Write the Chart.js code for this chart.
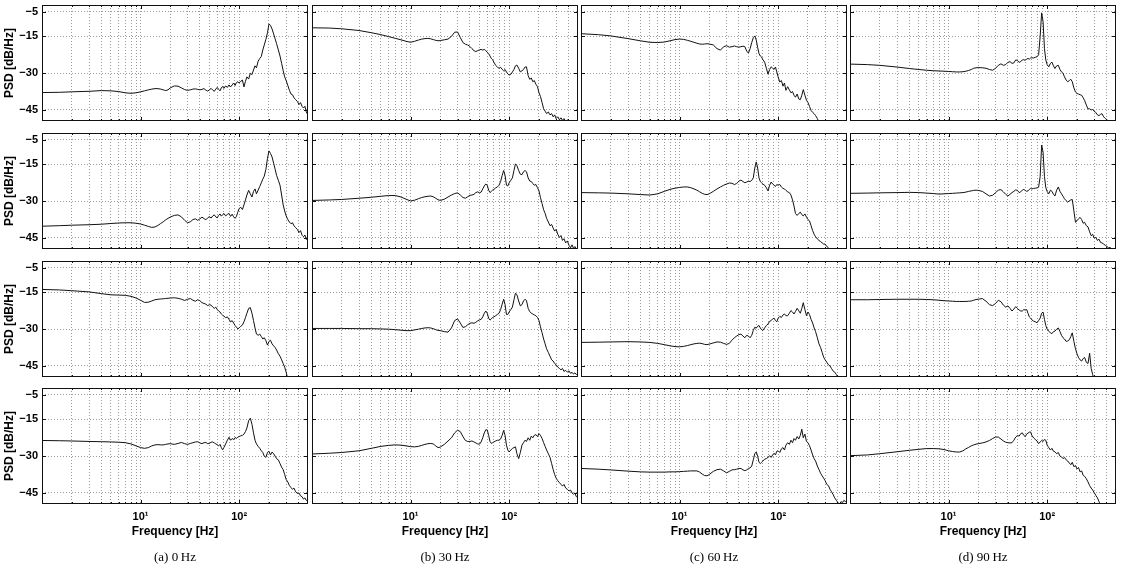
<!DOCTYPE html>
<html>
<head>
<meta charset="utf-8">
<script src="https://cdn.jsdelivr.net/npm/chart.js@4.4.1/dist/chart.umd.min.js"></script>
<style>
  html, body { margin: 0; padding: 0; background: #fff; }
  #figure { position: relative; width: 1148px; height: 567px; overflow: hidden; }
  #figure canvas { position: absolute; }
  .caption {
    position: absolute; width: 266px; text-align: center; color: #000;
    font-family: "Liberation Serif", "DejaVu Serif", serif; font-size: 13px; line-height: 14px;
  }
</style>
</head>
<body>
<div id="figure"></div>
<script>
//-----------------------------------------------------------------------------
// Data
//-----------------------------------------------------------------------------

var freqs = [
  1, 1.5, 2, 3, 4, 5, 6, 7, 8, 9,
  10, 11, 12, 13, 14, 15, 16, 17, 18, 19,
  20, 22, 24, 26, 28, 30, 32, 34, 36, 38,
  40, 42, 44, 46, 48, 50, 52, 54, 56, 58,
  60, 62, 64, 66, 68, 70, 73, 76, 79, 82,
  85, 88, 91, 94, 97, 100, 104, 108, 112, 116,
  120, 125, 130, 135, 140, 145, 150, 156, 162, 168,
  174, 180, 187, 194, 201, 208, 216, 224, 232, 240,
  250, 260, 270, 280, 290, 300, 312, 324, 336, 348,
  360, 375, 390, 405, 420, 435, 450, 465, 480, 500
];

// grid / tick positions
var xTicks = [2, 3, 4, 5, 6, 7, 8, 9, 10, 20, 30, 40, 50, 60, 70, 80, 90, 100, 200, 300, 400];
var xLabels = { 10: '10\u00b9', 100: '10\u00b2' };
var yTicks = [-45, -30, -15, -5];

var captions = ['(a) 0\u2009Hz', '(b) 30\u2009Hz', '(c) 60\u2009Hz', '(d) 90\u2009Hz'];

// column (a) 0 Hz
var psdA1 = [
  -37.9, -37.8, -37.6, -37.4, -37.1, -37.2, -37.5, -38.0, -38.2, -38.0,
  -37.6, -37.2, -36.8, -36.5, -36.3, -36.3, -36.5, -36.8, -37.1, -36.8,
  -36.0, -35.2, -35.3, -36.0, -36.7, -37.0, -36.8, -36.5, -36.4, -36.6,
  -36.8, -36.6, -36.3, -36.9, -37.3, -36.8, -36.2, -36.9, -37.4, -36.5,
  -35.8, -36.6, -37.2, -36.0, -35.4, -36.2, -35.2, -35.8, -34.8, -35.6,
  -34.8, -34.0, -35.0, -33.8, -33.5, -34.0, -33.3, -32.8, -35.6, -33.3,
  -31.5, -32.4, -30.0, -30.6, -28.7, -27.0, -27.8, -25.1, -24.0, -23.2,
  -20.5, -18.5, -16.2, -13.5, -9.9, -10.5, -12.0, -14.0, -16.0, -18.0,
  -20.5, -23.0, -26.0, -29.0, -31.5, -33.0, -35.0, -37.0, -38.5, -38.8,
  -40.0, -40.8, -41.5, -42.8, -42.0, -43.5, -44.2, -43.5, -45.8, -47.0
];
var psdA2 = [
  -40.2, -40.0, -39.8, -39.6, -39.4, -39.1, -38.9, -38.8, -38.8, -39.0,
  -39.3, -39.8, -40.3, -40.7, -40.5, -39.9, -39.1, -38.4, -37.6, -37.0,
  -36.5, -35.8, -35.6, -36.4, -37.8, -38.8, -38.4, -37.5, -37.2, -37.8,
  -37.2, -36.5, -37.1, -37.6, -36.8, -36.3, -36.9, -36.0, -35.6, -36.4,
  -36.8, -35.8, -35.2, -36.1, -35.5, -35.0, -36.0, -35.4, -35.0, -36.2,
  -35.3, -36.4, -37.0, -36.2, -34.5, -33.0, -32.5, -33.4, -31.5, -29.5,
  -27.5, -25.6, -27.0, -28.3, -26.0, -25.0, -27.0, -25.5, -24.0, -22.5,
  -21.0, -19.8, -17.0, -12.5, -9.5, -10.5, -12.0, -14.5, -17.0, -19.5,
  -21.5, -23.5, -27.5, -31.5, -34.0, -36.0, -37.5, -38.5, -39.2, -38.8,
  -40.0, -40.8, -41.5, -42.8, -42.0, -43.9, -44.5, -43.8, -45.5, -46.0
];
var psdA3 = [
  -13.8, -14.0, -14.3, -14.8, -15.5, -16.0, -16.1, -16.2, -16.6, -17.3,
  -18.2, -19.1, -19.0, -18.5, -18.0, -17.8, -17.7, -17.6, -17.5, -17.4,
  -17.3, -17.2, -17.4, -17.8, -18.3, -17.8, -17.5, -18.2, -18.6, -18.0,
  -18.4, -19.2, -19.5, -19.8, -20.4, -20.0, -20.2, -21.0, -21.5, -21.0,
  -22.0, -22.6, -23.0, -23.8, -24.3, -24.7, -25.3, -25.0, -26.0, -27.0,
  -26.5, -27.5, -28.5, -29.2, -29.9, -29.5, -28.8, -28.3, -27.0, -25.3,
  -23.5, -21.5, -21.2, -23.5, -26.5, -29.5, -32.0, -32.5, -32.0, -33.0,
  -34.0, -33.5, -34.7, -36.5, -35.0, -34.5, -36.0, -36.8, -37.5, -38.5,
  -40.0, -41.0, -42.5, -44.0, -45.5, -47.5, -50.5, -52.0, -53.0, -54.0,
  -55.0, -55.0, -55.0, -55.0, -55.0, -55.0, -55.0, -55.0, -55.0, -55.0
];
var psdA4 = [
  -23.6, -23.7, -23.8, -24.0, -24.1, -24.2, -24.3, -24.5, -25.0, -25.8,
  -26.5, -26.8, -26.5, -25.8, -25.4, -25.3, -25.4, -25.4, -25.2, -25.0,
  -24.9, -25.2, -24.8, -24.4, -24.9, -25.2, -24.8, -24.5, -24.2, -24.1,
  -24.6, -24.9, -24.5, -24.4, -24.9, -24.8, -24.3, -24.2, -24.6, -25.0,
  -25.3, -25.8, -25.2, -26.5, -27.4, -26.5, -25.0, -23.5, -22.3, -23.5,
  -22.8, -23.2, -22.4, -22.8, -22.2, -22.0, -21.7, -21.5, -21.0, -20.0,
  -18.5, -15.5, -14.5, -17.0, -20.5, -23.5, -25.0, -26.0, -26.8, -27.8,
  -28.5, -30.0, -30.5, -28.5, -28.0, -29.5, -28.3, -29.0, -30.0, -31.0,
  -31.5, -33.0, -34.5, -35.5, -37.5, -39.5, -40.5, -42.0, -42.8, -43.5,
  -43.0, -44.5, -45.2, -45.0, -46.2, -46.5, -47.5, -47.0, -48.0, -48.2
];

// column (b) 30 Hz
var psdB1 = [
  -11.5, -11.6, -11.9, -12.6, -13.5, -14.3, -15.1, -15.8, -16.4, -17.0,
  -17.4, -17.0, -16.5, -16.1, -15.9, -15.8, -16.0, -16.3, -16.6, -16.8,
  -16.7, -16.4, -16.1, -15.0, -13.3, -13.2, -15.5, -17.5, -18.2, -18.5,
  -19.1, -20.0, -20.8, -21.2, -20.8, -20.5, -20.3, -20.6, -20.3, -20.8,
  -21.5, -22.0, -23.0, -24.0, -24.5, -25.5, -26.8, -27.5, -28.0, -27.6,
  -28.4, -29.0, -28.5, -29.5, -30.3, -30.8, -30.5, -29.5, -28.5, -27.0,
  -26.7, -28.0, -29.5, -29.0, -28.5, -27.5, -27.4, -31.0, -32.5, -32.0,
  -33.5, -33.0, -34.5, -35.5, -38.0, -39.5, -42.0, -44.5, -45.5, -46.5,
  -45.8, -47.0, -46.5, -47.8, -47.0, -48.5, -47.8, -49.0, -48.2, -49.3,
  -48.5, -49.6, -49.0, -50.0, -51.0, -52.0, -53.0, -54.0, -55.0, -55.0
];
var psdB2 = [
  -29.7, -29.5, -29.3, -28.8, -28.4, -28.0, -27.7, -27.7, -28.3, -29.2,
  -29.9, -29.6, -29.0, -28.5, -28.2, -28.0, -27.9, -28.2, -28.8, -29.4,
  -29.7, -29.2, -28.3, -27.5, -26.9, -26.6, -27.5, -28.5, -28.8, -28.2,
  -27.6, -27.5, -27.2, -26.5, -26.2, -26.6, -26.3, -25.0, -23.8, -23.0,
  -23.5, -25.5, -26.5, -26.0, -25.5, -25.2, -24.6, -24.2, -23.5, -22.0,
  -19.5, -17.5, -19.5, -23.5, -23.8, -22.5, -21.5, -20.5, -17.5, -14.8,
  -15.5, -17.5, -19.0, -19.2, -18.0, -17.5, -18.0, -20.5, -21.8, -22.0,
  -22.8, -23.5, -23.2, -24.5, -25.8, -28.5, -31.0, -33.5, -35.0, -37.0,
  -38.5, -40.0, -39.5, -41.0, -42.2, -41.5, -43.5, -44.8, -44.0, -46.0,
  -45.3, -47.0, -46.2, -48.0, -49.0, -47.8, -49.2, -48.5, -49.5, -48.8
];
var psdB3 = [
  -29.7, -29.7, -29.7, -29.8, -29.8, -29.9, -30.0, -30.2, -30.4, -30.6,
  -30.6, -30.3, -30.0, -29.7, -29.5, -29.4, -29.5, -29.8, -30.2, -30.5,
  -30.6, -31.0, -31.2, -29.5, -26.5, -25.8, -27.5, -29.3, -29.0, -28.2,
  -27.6, -27.4, -27.6, -27.2, -26.6, -26.2, -26.0, -25.0, -23.5, -22.6,
  -23.5, -25.5, -26.3, -25.8, -25.2, -25.0, -24.5, -24.0, -23.5, -22.0,
  -19.8, -17.8, -20.0, -24.0, -24.0, -23.0, -22.0, -21.0, -18.0, -15.3,
  -16.0, -18.5, -20.5, -20.0, -18.5, -17.8, -18.3, -21.5, -22.8, -23.5,
  -23.8, -24.2, -24.5, -25.2, -26.5, -29.0, -31.5, -34.0, -36.0, -38.0,
  -39.5, -41.0, -42.5, -43.0, -44.0, -44.5, -45.5, -46.0, -46.6, -46.0,
  -47.2, -46.8, -47.5, -47.0, -48.0, -47.6, -48.3, -47.8, -48.5, -48.0
];
var psdB4 = [
  -29.1, -28.8, -28.5, -27.8, -26.8, -26.0, -25.6, -25.4, -25.5, -25.8,
  -26.1, -26.2, -26.0, -25.6, -25.2, -24.9, -24.8, -25.0, -25.8, -26.5,
  -26.3, -25.2, -23.8, -22.5, -20.5, -19.4, -20.0, -22.0, -23.6, -24.0,
  -24.0, -23.8, -24.2, -24.6, -25.0, -25.1, -24.2, -22.5, -20.5, -19.2,
  -19.3, -21.5, -24.0, -24.8, -24.5, -24.2, -23.8, -23.5, -23.5, -23.0,
  -21.5, -19.5, -21.5, -25.5, -27.5, -28.3, -27.5, -26.8, -26.5, -26.2,
  -29.0, -31.0, -28.5, -25.5, -24.5, -23.5, -24.0, -22.5, -23.5, -21.8,
  -22.5, -21.5, -21.2, -22.0, -20.8, -21.5, -22.8, -24.5, -26.0, -27.5,
  -29.0, -30.5, -33.0, -35.5, -37.5, -39.0, -40.0, -40.8, -41.5, -42.2,
  -41.5, -43.0, -43.5, -44.2, -43.8, -45.0, -45.5, -45.0, -46.5, -46.8
];

// column (c) 60 Hz
var psdC1 = [
  -13.9, -14.3, -14.8, -15.9, -16.8, -17.4, -17.5, -17.3, -16.8, -16.3,
  -16.1, -16.2, -16.6, -17.0, -17.4, -17.8, -18.1, -18.2, -18.1, -18.0,
  -18.1, -18.5, -20.0, -20.6, -19.2, -18.8, -19.4, -19.2, -18.9, -19.2,
  -19.4, -19.2, -19.0, -19.2, -21.0, -21.8, -20.0, -17.5, -15.5, -14.8,
  -16.5, -19.5, -22.0, -23.0, -23.4, -24.5, -25.5, -28.0, -30.4, -28.5,
  -27.4, -28.0, -28.5, -27.5, -29.5, -31.5, -33.6, -33.0, -35.3, -34.0,
  -37.0, -35.5, -36.8, -38.0, -37.5, -39.0, -39.8, -38.5, -40.5, -40.8,
  -39.0, -36.7, -39.0, -41.0, -42.0, -43.5, -45.2, -46.0, -46.5, -47.3,
  -48.5, -50.0, -51.0, -52.0, -53.0, -54.0, -55.0, -55.0, -55.0, -55.0,
  -55.0, -55.0, -55.0, -55.0, -55.0, -55.0, -55.0, -55.0, -55.0, -55.0
];
var psdC2 = [
  -26.5, -26.6, -26.7, -27.0, -27.3, -27.5, -27.0, -26.0, -25.2, -24.7,
  -24.4, -24.2, -24.2, -24.5, -25.0, -25.5, -26.2, -26.8, -27.2, -27.3,
  -27.0, -26.0, -25.0, -24.2, -23.5, -23.0, -22.6, -22.7, -23.2, -22.8,
  -21.8, -21.4, -22.0, -22.5, -22.2, -21.8, -22.0, -21.5, -20.5, -16.5,
  -14.0, -16.5, -20.5, -22.0, -22.5, -23.0, -23.5, -24.5, -25.8, -23.5,
  -22.2, -23.0, -23.5, -24.0, -23.2, -23.5, -23.2, -24.2, -24.8, -25.0,
  -25.6, -26.2, -26.5, -27.5, -29.5, -32.0, -35.0, -35.8, -35.0, -34.5,
  -35.5, -36.0, -35.2, -36.5, -37.5, -38.0, -40.0, -42.0, -43.5, -44.5,
  -45.4, -46.0, -46.5, -47.0, -47.5, -47.5, -48.5, -49.0, -50.5, -52.0,
  -54.0, -55.0, -55.0, -55.0, -55.0, -55.0, -55.0, -55.0, -55.0, -55.0
];
var psdC3 = [
  -35.4, -35.3, -35.2, -35.1, -35.2, -35.4, -35.8, -36.3, -36.8, -37.1,
  -37.2, -37.0, -36.7, -36.3, -36.0, -35.8, -35.7, -35.9, -36.2, -36.3,
  -36.1, -35.6, -35.2, -35.3, -35.8, -36.2, -35.8, -34.5, -33.5, -32.8,
  -32.2, -32.0, -32.8, -33.5, -32.5, -32.8, -33.5, -32.5, -30.5, -29.2,
  -29.6, -28.8, -28.5, -29.5, -30.2, -30.5, -29.5, -28.5, -27.9, -26.8,
  -26.5, -25.8, -25.5, -26.5, -27.0, -25.5, -24.8, -25.2, -24.2, -23.8,
  -24.5, -24.5, -23.5, -22.4, -23.0, -23.8, -22.8, -21.5, -22.5, -23.5,
  -21.5, -19.2, -22.0, -24.5, -23.0, -24.0, -26.0, -27.5, -29.5, -31.0,
  -33.5, -36.0, -37.5, -39.5, -41.5, -42.5, -43.5, -44.5, -45.0, -46.0,
  -47.0, -47.5, -48.5, -49.5, -50.5, -52.0, -53.0, -54.0, -55.0, -55.0
];
var psdC4 = [
  -35.0, -35.3, -35.6, -36.1, -36.4, -36.5, -36.5, -36.5, -36.4, -36.4,
  -36.3, -36.2, -36.1, -36.0, -36.0, -36.0, -36.5, -37.3, -37.9, -38.0,
  -37.5, -36.2, -35.5, -35.3, -36.0, -36.8, -36.2, -35.6, -35.5, -35.3,
  -35.0, -35.0, -35.6, -35.9, -35.6, -35.0, -34.8, -34.0, -31.5, -29.0,
  -28.3, -30.0, -32.5, -33.0, -32.5, -32.0, -31.2, -31.0, -30.5, -29.8,
  -30.5, -29.5, -28.8, -29.5, -28.0, -27.8, -28.5, -27.0, -26.5, -27.5,
  -25.5, -24.5, -25.2, -23.5, -24.5, -22.8, -23.5, -22.0, -23.0, -21.5,
  -19.0, -22.5, -21.0, -24.0, -24.5, -25.7, -27.5, -29.5, -31.0, -32.0,
  -34.0, -35.5, -37.0, -38.0, -39.0, -40.0, -41.5, -42.0, -43.5, -44.5,
  -45.5, -47.0, -48.0, -49.0, -49.6, -48.5, -49.0, -48.0, -48.5, -48.0
];

// column (d) 90 Hz
var psdD1 = [
  -26.3, -26.5, -26.8, -27.5, -28.1, -28.5, -28.8, -29.0, -29.1, -29.2,
  -29.3, -29.4, -29.5, -29.5, -29.4, -29.2, -28.9, -28.5, -28.0, -27.8,
  -27.7, -27.8, -28.0, -28.5, -28.8, -28.0, -26.8, -26.2, -26.8, -26.5,
  -25.6, -25.3, -26.0, -25.8, -24.6, -24.8, -25.6, -25.3, -24.6, -24.5,
  -24.8, -24.2, -24.0, -24.3, -23.8, -23.7, -23.8, -23.5, -23.3, -22.5,
  -15.0, -5.4, -9.0, -20.0, -24.6, -26.5, -27.4, -26.0, -25.5, -27.0,
  -28.1, -27.0, -26.8, -28.5, -29.5, -30.0, -31.5, -32.8, -33.5, -33.0,
  -32.5, -33.5, -36.0, -37.7, -38.3, -38.5, -38.8, -39.0, -40.0, -41.1,
  -43.0, -44.6, -44.5, -45.0, -44.8, -45.5, -46.0, -47.0, -47.3, -46.8,
  -46.5, -47.8, -48.5, -49.0, -49.6, -50.5, -52.0, -54.0, -55.0, -55.0
];
var psdD2 = [
  -26.8, -26.7, -26.6, -26.5, -26.4, -26.5, -26.7, -26.9, -27.1, -27.0,
  -26.9, -26.8, -26.7, -26.6, -26.5, -26.3, -26.0, -25.8, -25.6, -25.5,
  -25.6, -26.0, -27.0, -27.9, -27.6, -26.5, -25.5, -25.3, -26.2, -27.2,
  -27.9, -27.2, -26.5, -26.0, -25.4, -25.6, -26.5, -26.2, -25.5, -25.2,
  -25.6, -26.0, -25.8, -25.2, -24.8, -25.0, -24.8, -24.7, -24.6, -24.3,
  -20.0, -7.1, -10.0, -20.0, -24.5, -26.0, -27.0, -25.5, -26.0, -27.2,
  -27.9, -25.5, -24.2, -26.0, -27.0, -28.0, -29.0, -29.8, -30.4, -29.8,
  -29.5, -29.3, -34.0, -38.6, -38.0, -37.2, -36.6, -37.5, -39.0, -38.6,
  -40.0, -40.5, -42.5, -44.1, -43.5, -45.0, -44.8, -46.0, -45.5, -46.8,
  -47.0, -47.5, -48.0, -48.5, -49.0, -48.8, -49.4, -49.5, -50.0, -50.5
];
var psdD3 = [
  -18.0, -18.0, -17.9, -17.8, -17.8, -17.8, -17.9, -18.0, -18.2, -18.4,
  -18.5, -18.6, -18.7, -18.7, -18.7, -18.7, -18.6, -18.5, -18.2, -17.9,
  -17.8, -17.5, -18.6, -20.0, -20.4, -19.5, -18.2, -18.8, -20.2, -21.0,
  -20.5, -21.5, -22.6, -21.8, -20.8, -21.5, -22.2, -22.6, -22.6, -22.0,
  -22.2, -22.0, -23.5, -25.0, -25.5, -26.2, -26.7, -27.0, -27.4, -26.5,
  -25.5, -23.5, -23.0, -26.0, -28.5, -30.0, -30.8, -31.5, -31.8, -31.0,
  -30.8, -30.0, -29.5, -31.0, -32.5, -33.5, -34.0, -35.0, -34.8, -34.3,
  -33.0, -31.5, -35.0, -38.0, -40.0, -41.5, -42.5, -43.0, -42.0, -41.5,
  -43.5, -44.0, -39.8, -46.0, -48.5, -51.0, -54.0, -55.0, -55.0, -55.0,
  -55.0, -55.0, -55.0, -55.0, -55.0, -55.0, -55.0, -55.0, -55.0, -55.0
];
var psdD4 = [
  -29.8, -29.5, -29.0, -28.2, -27.6, -27.2, -26.9, -26.9, -27.0, -27.3,
  -27.8, -28.1, -28.3, -28.3, -27.8, -27.0, -26.4, -25.8, -25.4, -25.1,
  -24.9, -24.6, -24.2, -23.6, -22.8, -22.2, -22.2, -23.0, -23.8, -24.3,
  -24.5, -24.6, -24.5, -23.5, -22.2, -21.6, -21.8, -20.8, -20.5, -21.5,
  -22.0, -21.0, -20.6, -20.2, -20.1, -21.5, -22.6, -23.2, -23.8, -24.9,
  -24.2, -23.6, -24.0, -23.2, -23.5, -25.5, -26.5, -27.5, -26.8, -28.0,
  -28.2, -29.0, -28.5, -30.0, -30.3, -31.0, -30.5, -31.5, -32.0, -32.8,
  -33.5, -32.5, -34.3, -33.8, -35.2, -34.6, -36.4, -36.0, -37.8, -38.2,
  -39.2, -40.5, -42.0, -43.0, -43.8, -44.8, -46.0, -47.0, -48.5, -50.0,
  -52.0, -54.0, -55.0, -55.0, -55.0, -55.0, -55.0, -55.0, -55.0, -55.0
];

// rows of the figure, columns a..d
var panels = [
  [psdA1, psdB1, psdC1, psdD1],
  [psdA2, psdB2, psdC2, psdD2],
  [psdA3, psdB3, psdC3, psdD3],
  [psdA4, psdB4, psdC4, psdD4]
];

//-----------------------------------------------------------------------------
// Layout
//-----------------------------------------------------------------------------

var colLeft = [42, 312, 581, 850];
var rowTop = [5, 133, 261, 388];
var plotW = 266, plotH = 116;
var axisW = 42, axisH = 50; // room kept for y ticks/title and x ticks/title

var FONT = '"Liberation Sans", Arial, Helvetica, sans-serif';
var GRID = '#9a9a9a';

// frame round the plot area with small inward ticks (matlab style)
var framePlugin = {
  id: 'frame',
  afterDatasetsDraw: function(chart) {
    var ctx = chart.ctx,
        a = chart.chartArea,
        xs = chart.scales.x,
        ys = chart.scales.y;

    ctx.save();
    ctx.strokeStyle = '#111';
    ctx.lineWidth = 1;
    ctx.beginPath();
    $each(xTicks, function(v) {
      var px = Math.round(xs.getPixelForValue(v)) + 0.5,
          len = (v === 10 || v === 100) ? 4 : 2;
      ctx.moveTo(px, a.top);
      ctx.lineTo(px, a.top + len);
      ctx.moveTo(px, a.bottom);
      ctx.lineTo(px, a.bottom - len);
    });
    $each(yTicks, function(v) {
      var py = Math.round(ys.getPixelForValue(v)) + 0.5;
      ctx.moveTo(a.left, py);
      ctx.lineTo(a.left + 4, py);
      ctx.moveTo(a.right, py);
      ctx.lineTo(a.right - 4, py);
    });
    ctx.stroke();
    ctx.strokeRect(Math.round(a.left) + 0.5, Math.round(a.top) + 0.5,
                   Math.round(a.width) - 1, Math.round(a.height) - 1);
    ctx.restore();
  }
};

function $each(list, fn) {
  for (var i = 0; i < list.length; i++) fn(list[i], i);
}

function makePanel(row, col) {
  var values = panels[row][col],
      showX = row === 3,
      showY = col === 0;

  var canvas = document.createElement('canvas');
  canvas.width = axisW + plotW;
  canvas.height = plotH + axisH;
  canvas.style.left = (colLeft[col] - axisW) + 'px';
  canvas.style.top = rowTop[row] + 'px';
  document.getElementById('figure').appendChild(canvas);

  var points = [];
  $each(freqs, function(f, i) {
    points.push({ x: f, y: values[i] });
  });

  return new Chart(canvas, {
    type: 'line',
    data: {
      datasets: [{
        data: points,
        borderColor: '#111',
        borderWidth: 1,
        pointRadius: 0,
        tension: 0,
        fill: false
      }]
    },
    options: {
      responsive: false,
      animation: false,
      devicePixelRatio: 1,
      layout: { padding: 0 },
      plugins: { legend: { display: false }, tooltip: { enabled: false } },
      scales: {
        x: {
          type: 'logarithmic',
          min: 1,
          max: 500,
          afterBuildTicks: function(s) {
            s.ticks = xTicks.map(function(v) { return { value: v }; });
          },
          afterFit: function(s) {
            s.height = axisH;
            s.paddingLeft = 0;
            s.paddingRight = 0;
          },
          grid: { color: GRID, lineWidth: 1, drawTicks: false },
          border: { display: false, dash: [1, 2] },
          ticks: {
            display: showX,
            autoSkip: false,
            maxRotation: 0,
            padding: 6,
            color: '#000',
            font: { family: FONT, size: 11, weight: 'bold' },
            callback: function(v) { return xLabels[v] || ''; }
          },
          title: {
            display: showX,
            text: 'Frequency [Hz]',
            color: '#000',
            font: { family: FONT, size: 12, weight: 'bold' },
            padding: { top: 0, bottom: 15 }
          }
        },
        y: {
          type: 'linear',
          min: -49.5,
          max: -2.2,
          afterBuildTicks: function(s) {
            s.ticks = yTicks.map(function(v) { return { value: v }; });
          },
          afterFit: function(s) {
            s.width = axisW;
            s.paddingTop = 0;
            s.paddingBottom = 0;
          },
          grid: { color: GRID, lineWidth: 1, drawTicks: false },
          border: { display: false, dash: [1, 2] },
          ticks: {
            display: showY,
            padding: 4,
            color: '#000',
            font: { family: FONT, size: 11, weight: 'bold' },
            callback: function(v) { return '\u2212' + Math.abs(v); }
          },
          title: {
            display: showY,
            text: 'PSD [dB/Hz]',
            color: '#000',
            font: { family: FONT, size: 12, weight: 'bold' },
            padding: { top: 2, bottom: 0 }
          }
        }
      }
    },
    plugins: [framePlugin]
  });
}

//-----------------------------------------------------------------------------
// Build the figure
//-----------------------------------------------------------------------------

for (var r = 0; r < 4; r++) {
  for (var c = 0; c < 4; c++) {
    makePanel(r, c);
  }
}

$each(captions, function(text, c) {
  var div = document.createElement('div');
  div.className = 'caption';
  div.style.left = colLeft[c] + 'px';
  div.style.top = '550px';
  div.textContent = text;
  document.getElementById('figure').appendChild(div);
});
</script>
</body>
</html>
